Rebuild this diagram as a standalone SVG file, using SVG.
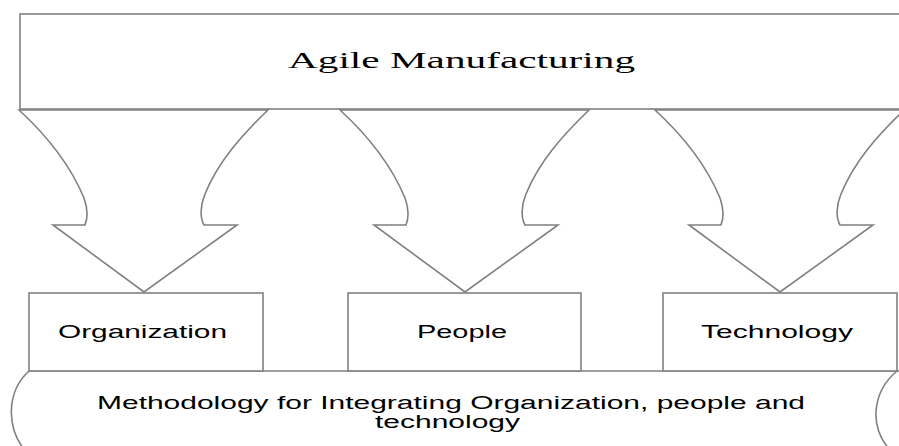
<svg xmlns="http://www.w3.org/2000/svg" width="899" height="446" viewBox="0 0 899 446">
<style>
.sh{fill:#fff;stroke:#808080;stroke-width:1.6}
.serif{font-family:"Liberation Serif","Times New Roman",serif;fill:#000}
.sans{font-family:"Liberation Sans",Arial,sans-serif;fill:#000}
</style>
<defs>
<path id="arr" d="M0,0 C24,22 50,52 65,88 C70,102 68,110 66,115 L34,115 L125,182 L218,115 L185,115 C181,108 181,96 186,84 C199,52 222,26 249,0 Z"/>
</defs>
<rect width="899" height="446" fill="#fff"/>
<g id="connectors">
<use href="#arr" class="sh" x="19" y="110"/>
<use href="#arr" class="sh" x="340" y="110"/>
<use href="#arr" class="sh" x="655" y="110"/>
</g>
<g id="agile">
<rect class="sh" x="20" y="14" width="900" height="95"/>
<text class="serif" x="288" y="68" font-size="24" textLength="347" lengthAdjust="spacingAndGlyphs">Agile Manufacturing</text>
</g>
<g id="methodology">
<path class="sh" d="M29,371 L897,371 C872,392 868,428 892,452 L910,452 L910,460 L20,460 L26,452 C6,428 6,392 29,371 Z"/>
<path class="sh" d="M897,371 L899,371" fill="none"/>
<text class="sans" x="97" y="409" font-size="18" textLength="708" lengthAdjust="spacingAndGlyphs">Methodology for Integrating Organization, people and</text>
<text class="sans" x="375" y="428" font-size="18" textLength="145" lengthAdjust="spacingAndGlyphs">technology</text>
</g>
<g id="organization">
<rect class="sh" x="29" y="293" width="234" height="78"/>
<text class="sans" x="58" y="338" font-size="18" textLength="169" lengthAdjust="spacingAndGlyphs">Organization</text>
</g>
<g id="people">
<rect class="sh" x="348" y="293" width="233" height="78"/>
<text class="sans" x="417" y="338" font-size="18" textLength="90" lengthAdjust="spacingAndGlyphs">People</text>
</g>
<g id="technology">
<rect class="sh" x="663" y="293" width="234" height="78"/>
<text class="sans" x="701" y="338" font-size="18" textLength="152" lengthAdjust="spacingAndGlyphs">Technology</text>
</g>
</svg>
